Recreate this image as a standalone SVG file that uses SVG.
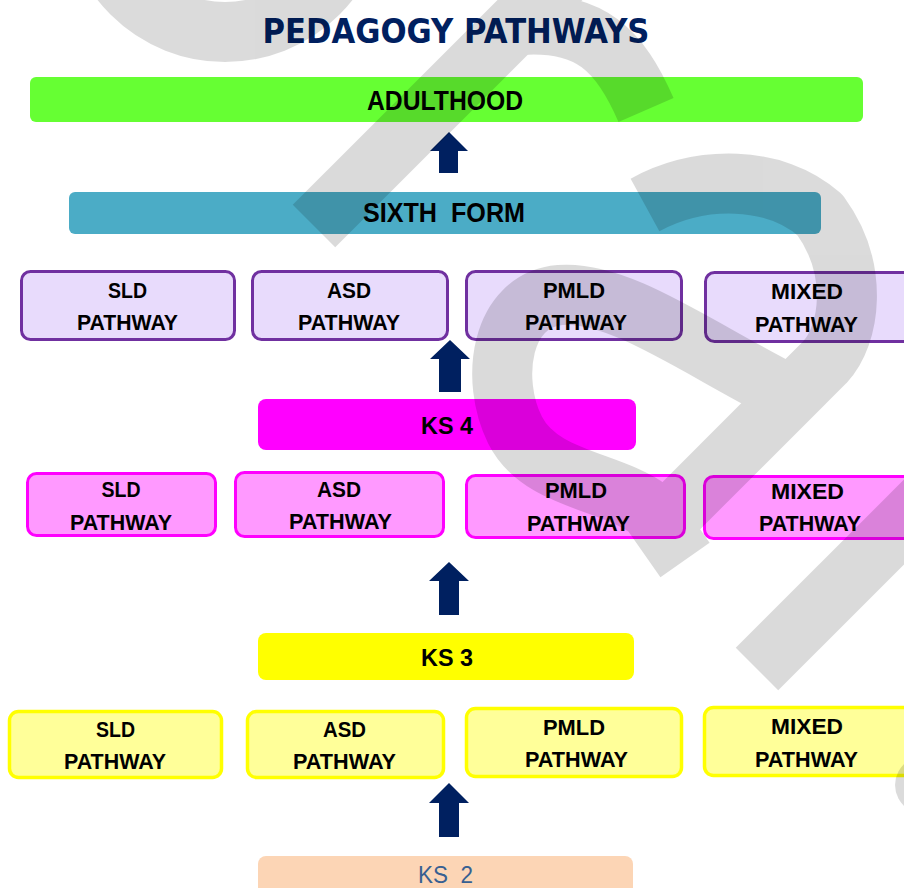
<svg xmlns="http://www.w3.org/2000/svg" width="904" height="888" viewBox="0 0 904 888">
<defs>
<style>
.t{font-family:"Liberation Sans",Arial,sans-serif;font-weight:bold;fill:#000;text-anchor:middle;lengthAdjust:spacingAndGlyphs}
.p{font-size:22px}
.big{font-size:27px}
.ks{font-size:23px}
.r1{fill:#e8dbfc;stroke:#7030a0;stroke-width:3}
.r2{fill:#ff99ff;stroke:#ff00ff;stroke-width:3}
.r3{fill:#ffff99;stroke:#ffff00;stroke-width:3.5}
.arrow{fill:#002060}
.wm{fill:none;stroke:#000;stroke-width:60;stroke-linecap:butt;stroke-linejoin:round}
</style>
</defs>
<rect width="904" height="888" fill="#fff"/>
<text x="456" y="43" font-family="'Comic Sans MS','DejaVu Sans',sans-serif" font-weight="bold" font-size="33" fill="#002060" text-anchor="middle" textLength="387" lengthAdjust="spacingAndGlyphs">PEDAGOGY PATHWAYS</text>

<g id="adulthood"><rect x="30" y="77" width="833" height="45" rx="6" fill="#66ff33"/><text class="t big" x="445" y="110" textLength="156" lengthAdjust="spacingAndGlyphs">ADULTHOOD</text></g>
<g id="sixth-form"><rect x="69" y="192" width="752" height="42" rx="6" fill="#4bacc6"/><text class="t big" x="444" y="222" textLength="162" lengthAdjust="spacingAndGlyphs" xml:space="preserve">SIXTH  FORM</text></g>

<g id="sf-sld"><rect class="r1" x="21.5" y="271.5" width="213" height="68" rx="9"/><text class="t p" x="127.5" y="298" textLength="39" lengthAdjust="spacingAndGlyphs">SLD</text><text class="t p" x="127.5" y="330" textLength="101" lengthAdjust="spacingAndGlyphs">PATHWAY</text></g>
<g id="sf-asd"><rect class="r1" x="252.5" y="271.5" width="195" height="68" rx="9"/><text class="t p" x="349" y="298" textLength="44" lengthAdjust="spacingAndGlyphs">ASD</text><text class="t p" x="349" y="330" textLength="102" lengthAdjust="spacingAndGlyphs">PATHWAY</text></g>
<g id="sf-pmld"><rect class="r1" x="466.5" y="271.5" width="215" height="68" rx="9"/><text class="t p" x="574" y="298" textLength="62" lengthAdjust="spacingAndGlyphs">PMLD</text><text class="t p" x="576" y="330" textLength="102" lengthAdjust="spacingAndGlyphs">PATHWAY</text></g>
<g id="sf-mixed"><rect class="r1" x="705.5" y="272.5" width="215" height="69" rx="9"/><text class="t p" x="807" y="299" textLength="72" lengthAdjust="spacingAndGlyphs">MIXED</text><text class="t p" x="806.5" y="332" textLength="103" lengthAdjust="spacingAndGlyphs">PATHWAY</text></g>

<g id="ks4"><rect x="258" y="399" width="378" height="51" rx="8" fill="#ff00ff"/><text class="t ks" x="447" y="434" textLength="52" lengthAdjust="spacingAndGlyphs">KS 4</text></g>

<g id="ks4-sld"><rect class="r2" x="27.5" y="473.5" width="188" height="62" rx="9"/><text class="t p" x="121" y="497" textLength="39" lengthAdjust="spacingAndGlyphs">SLD</text><text class="t p" x="121" y="530" textLength="102" lengthAdjust="spacingAndGlyphs">PATHWAY</text></g>
<g id="ks4-asd"><rect class="r2" x="235.5" y="472.5" width="208" height="64" rx="9"/><text class="t p" x="339" y="497" textLength="44" lengthAdjust="spacingAndGlyphs">ASD</text><text class="t p" x="340.5" y="529" textLength="103" lengthAdjust="spacingAndGlyphs">PATHWAY</text></g>
<g id="ks4-pmld"><rect class="r2" x="466.5" y="475.5" width="218" height="62" rx="9"/><text class="t p" x="576" y="498" textLength="62" lengthAdjust="spacingAndGlyphs">PMLD</text><text class="t p" x="578.5" y="531" textLength="103" lengthAdjust="spacingAndGlyphs">PATHWAY</text></g>
<g id="ks4-mixed"><rect class="r2" x="704.5" y="476.5" width="215" height="62" rx="9"/><text class="t p" x="807.5" y="499" textLength="73" lengthAdjust="spacingAndGlyphs">MIXED</text><text class="t p" x="810" y="531" textLength="102" lengthAdjust="spacingAndGlyphs">PATHWAY</text></g>

<g id="ks3"><rect x="258" y="633" width="376" height="47" rx="8" fill="#ffff00"/><text class="t ks" x="447" y="666" textLength="52" lengthAdjust="spacingAndGlyphs">KS 3</text></g>

<g id="ks3-sld"><rect class="r3" x="9.5" y="711.5" width="212" height="66" rx="9"/><text class="t p" x="115.5" y="737" textLength="39" lengthAdjust="spacingAndGlyphs">SLD</text><text class="t p" x="115" y="769" textLength="102" lengthAdjust="spacingAndGlyphs">PATHWAY</text></g>
<g id="ks3-asd"><rect class="r3" x="247.5" y="711.5" width="196" height="66" rx="9"/><text class="t p" x="344.5" y="737" textLength="43" lengthAdjust="spacingAndGlyphs">ASD</text><text class="t p" x="344.5" y="769" textLength="103" lengthAdjust="spacingAndGlyphs">PATHWAY</text></g>
<g id="ks3-pmld"><rect class="r3" x="466.5" y="708.5" width="215" height="68" rx="9"/><text class="t p" x="574" y="735" textLength="62" lengthAdjust="spacingAndGlyphs">PMLD</text><text class="t p" x="576.5" y="767" textLength="103" lengthAdjust="spacingAndGlyphs">PATHWAY</text></g>
<g id="ks3-mixed"><rect class="r3" x="704.5" y="707.5" width="215" height="68" rx="9"/><text class="t p" x="807" y="734" textLength="72" lengthAdjust="spacingAndGlyphs">MIXED</text><text class="t p" x="806.5" y="767" textLength="103" lengthAdjust="spacingAndGlyphs">PATHWAY</text></g>

<g id="ks2"><rect x="258" y="856" width="375" height="44" rx="8" fill="#fcd5b5"/><text x="445.5" y="883" font-family="'Liberation Sans',Arial,sans-serif" font-size="23" fill="#376092" text-anchor="middle" textLength="55" lengthAdjust="spacingAndGlyphs" xml:space="preserve">KS  2</text></g>

<g id="connectors">
<polygon class="arrow" points="449,132 468,151 458,151 458,173 439,173 439,151 430,151"/>
<polygon class="arrow" points="450,340 470,359 461,359 461,392 439,392 439,359 430,359"/>
<polygon class="arrow" points="449,562 469,581 459,581 459,615 439,615 439,581 429,581"/>
<polygon class="arrow" points="449,783 469,803 459,803 459,837 439,837 439,803 429,803"/>
</g>

<g id="watermark" opacity="0.14">
<circle class="wm" cx="225" cy="-100" r="132"/>
<path class="wm" d="M614,-74 L314,226"/>
<path class="wm" d="M646,110 C620,50 590,20 520,25"/>
<path class="wm" d="M645,205 C700,175 775,175 820,215 C860,270 850,335 825,362 L645,542"/>
<path class="wm" d="M790,395 C700,350 620,290 560,295 C500,300 490,380 515,430 C540,480 610,480 650,510 L685,560"/>
<path class="wm" d="M950,476 L757,669"/>
<ellipse cx="940" cy="785" rx="45" ry="35" fill="#000"/>
</g>
</svg>
